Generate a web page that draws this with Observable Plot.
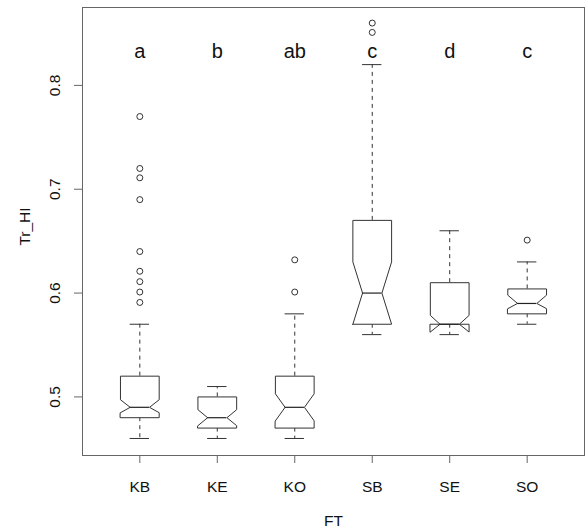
<!DOCTYPE html>
<html><head><meta charset="utf-8">
<script src="https://cdn.jsdelivr.net/npm/d3@7"></script>
<script src="https://cdn.jsdelivr.net/npm/@observablehq/plot@0.6"></script>
<style>body{margin:0;background:#fff}</style>
</head><body><div id="chart"></div>
<script>
const categories = ["KB", "KE", "KO", "SB", "SE", "SO"];
const lowerWhisker = [0.46, 0.46, 0.46, 0.56, 0.56, 0.57];
const q1 = [0.48, 0.47, 0.47, 0.57, 0.57, 0.58];
const median = [0.49, 0.48, 0.49, 0.60, 0.57, 0.59];
const q3 = [0.52, 0.50, 0.52, 0.67, 0.61, 0.604];
const upperWhisker = [0.57, 0.51, 0.58, 0.82, 0.66, 0.63];
const notchLo = [0.4848, 0.4723, 0.477, 0.570, 0.5625, 0.585];
const notchHi = [0.4973, 0.4877, 0.503, 0.630, 0.5785, 0.598];
const outliersKB = [0.77, 0.72, 0.711, 0.69, 0.64, 0.621, 0.611, 0.601, 0.591];
const outliersKE = [];
const outliersKO = [0.632, 0.601];
const outliersSB = [0.86, 0.851];
const outliersSE = [];
const outliersSO = [0.651];
const groupLetters = ["a", "b", "ab", "c", "d", "c"];
const letterY = 0.833;
const yTicks = [0.5, 0.6, 0.7, 0.8];

const outlierLists = [outliersKB, outliersKE, outliersKO, outliersSB, outliersSE, outliersSO];
const boxes = categories.map((c, i) => ({
  cat: c, pos: i + 1, lw: lowerWhisker[i], q1: q1[i], med: median[i], q3: q3[i],
  uw: upperWhisker[i], nlo: notchLo[i], nhi: notchHi[i], letter: groupLetters[i]
}));
const W = 0.25, NW = 0.5, SW = 0.5;
const poly = boxes.flatMap(b => {
  const xs = [-1, 1, 1, NW, 1, 1, -1, -1, -NW, -1];
  const ys = [b.q1, b.q1, b.nlo, b.med, b.nhi, b.q3, b.q3, b.nhi, b.med, b.nlo];
  return xs.map((k, j) => ({cat: b.cat, x: b.pos + W * k, y: ys[j]}));
});
const outlierRows = boxes.flatMap((b, i) => outlierLists[i].map(v => ({cat: b.cat, pos: b.pos, v})));

const ink = "#333";
const fs = 15.5;
const chart = Plot.plot({
  width: 585, height: 532,
  marginLeft: 82, marginRight: 1, marginTop: 7, marginBottom: 77,
  x: {domain: [0.26, 6.74]},
  y: {domain: [0.4436, 0.875]},
  style: {fontFamily: "Liberation Sans, Arial, sans-serif", fontSize: "15.5px", color: "#111", background: "#fff"},
  marks: [
    Plot.ruleX(boxes, {x: "pos", y1: "q3", y2: "uw", stroke: ink, strokeDasharray: "4,4"}),
    Plot.ruleX(boxes, {x: "pos", y1: "q1", y2: "lw", stroke: ink, strokeDasharray: "4,4"}),
    Plot.ruleY(boxes, {y: "uw", x1: d => d.pos - W * SW, x2: d => d.pos + W * SW, stroke: ink}),
    Plot.ruleY(boxes, {y: "lw", x1: d => d.pos - W * SW, x2: d => d.pos + W * SW, stroke: ink}),
    Plot.line(poly, {x: "x", y: "y", z: "cat", curve: "linear-closed", stroke: ink, strokeWidth: 1, fill: "white"}),
    Plot.ruleY(boxes, {y: "med", x1: d => d.pos - W * NW, x2: d => d.pos + W * NW, stroke: "#222", strokeWidth: 1.2}),
    Plot.dot(outlierRows, {x: "pos", y: "v", r: 3, stroke: ink, fill: "none", strokeWidth: 1}),
    Plot.text(boxes, {x: "pos", y: () => letterY, text: "letter", fontSize: 20, fill: "#111"}),
    Plot.frame({stroke: "#666"}),
    Plot.axisX({ticks: [1, 2, 3, 4, 5, 6], tickFormat: d => categories[d - 1], tickSize: 8, tickPadding: 17, label: null, stroke: "#666", fontSize: fs, fill: "#111"}),
    Plot.axisY({ticks: yTicks, tickSize: 8, tickFormat: () => "", label: null, stroke: "#666"}),
    Plot.text(yTicks, {y: d => d, text: d => d.toFixed(1), frameAnchor: "left", textAnchor: "middle", dx: -27, rotate: -90, lineAnchor: "middle", fill: "#111", fontSize: fs}),
    Plot.text(["Tr_HI"], {frameAnchor: "left", textAnchor: "middle", dx: -57, dy: -5, rotate: -90, lineAnchor: "middle", fill: "#111", fontSize: fs}),
    Plot.text(["FT"], {frameAnchor: "bottom", textAnchor: "middle", dy: 66, lineAnchor: "middle", fill: "#111", fontSize: fs})
  ]
});
document.getElementById("chart").appendChild(chart);
</script>
</body></html>
